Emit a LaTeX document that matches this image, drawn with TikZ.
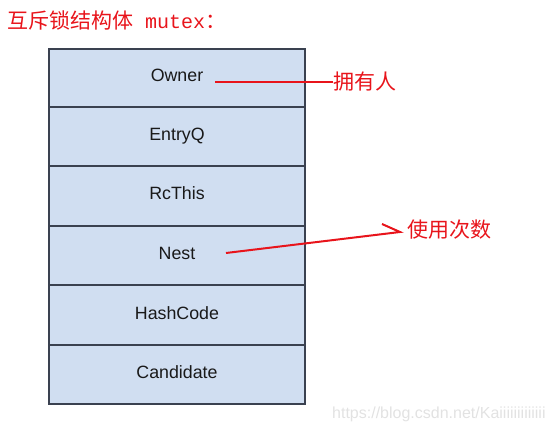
\documentclass[tikz,border=0pt]{standalone}
\usepackage{fontspec}
\setmainfont{Liberation Sans}
\newfontfamily\cjk{Noto Sans CJK SC}
\newfontfamily\monof{Liberation Mono}
\definecolor{rowfill}{HTML}{D0DEF1}
\definecolor{rowline}{HTML}{3A4150}
\definecolor{redink}{HTML}{E8141B}
\definecolor{wmark}{HTML}{E2E2E2}
\begin{document}
\begin{tikzpicture}[x=1pt,y=-1pt,
  rowbox/.style={draw=rowline,fill=rowfill,line width=1.2pt,minimum width=256pt,inner sep=0pt,
    text height=13pt,text depth=5pt,
    font=\fontsize{17.8}{17.8}\selectfont,text=black!90},
  redlabel/.style={text=redink,font=\cjk\fontsize{21}{21}\selectfont,inner sep=0pt,anchor=west},
  redline/.style={draw=redink,line width=1.5pt}]
\useasboundingbox (0,0) rectangle (560,433);
\node[text=redink,anchor=west,inner sep=0pt] (title) at (7,21)
  {{\cjk\fontsize{21}{21}\selectfont 互斥锁结构体}\hspace{12pt}{\monof\fontsize{20}{20}\selectfont mutex}{\cjk\fontsize{21}{21}\selectfont ：}};
\node[rowbox,minimum height=58pt] (owner) at (177,78) {Owner};
\node[rowbox,minimum height=59pt] (entryq) at (177,136.5) {EntryQ};
\node[rowbox,minimum height=60pt] (rcthis) at (177,196) {RcThis};
\node[rowbox,minimum height=59pt] (nest) at (177,255.5) {Nest};
\node[rowbox,minimum height=60pt] (hash) at (177,315) {HashCode};
\node[rowbox,minimum height=59pt] (cand) at (177,374.5) {Candidate};
\node[redlabel] (yongyou) at (333,82) {拥有人};
\node[redlabel] (shiyong) at (407,230) {使用次数};
\coordinate (ownstart) at (215,82);
\coordinate (neststart) at (226,253);
\coordinate (nesttip) at (400,232);
\coordinate (nestbarb) at (382,224);
\draw[redline] (ownstart) -- (yongyou.west);
\draw[redline,line width=2pt] (neststart) -- (nesttip) -- (nestbarb);
\node[text=wmark,anchor=west,inner sep=0pt,font=\fontsize{16}{16}\selectfont] (wm) at (332,414) {https://blog.csdn.net/Kaiiiiiiiiiiiii};
\end{tikzpicture}
\end{document}
